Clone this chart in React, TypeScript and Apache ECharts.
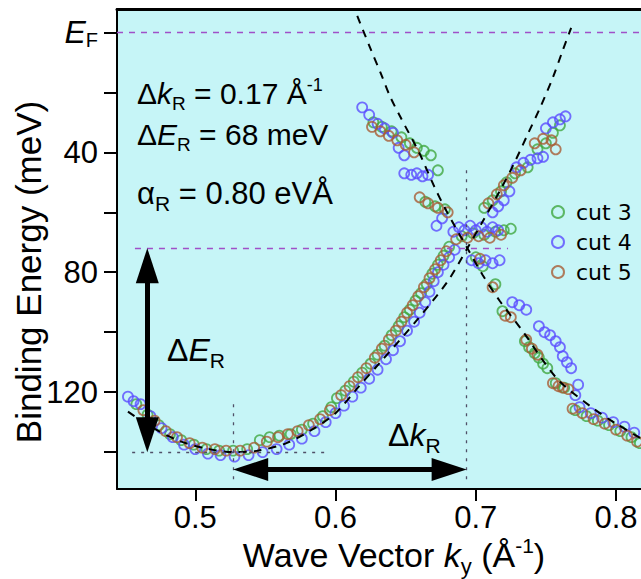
import React, { useEffect, useRef } from "react";
import * as echarts from "echarts";

const FONT = "Liberation Sans, Arial, Helvetica, sans-serif";

const xTicks = [0.5, 0.6, 0.7, 0.8];
const yTicks = [0, 20, 40, 60, 80, 100, 120, 140];
const yLabels = [0, 40, 80, 120];
const seriesNames = ["cut 3", "cut 4", "cut 5"];
const seriesColors = ["#40a840", "#5a4cff", "#a85c34"];

const cut3: number[][] = [
  [0.458, 124], [0.466, 127.5], [0.474, 131], [0.482, 134], [0.49, 136], [0.499, 137.5], [0.508, 139], [0.517, 139.5],
  [0.527, 139.5], [0.537, 139], [0.546, 136], [0.553, 135], [0.56, 134.5], [0.568, 134], [0.576, 132.5], [0.584, 130.5],
  [0.591, 128], [0.597, 125],
  [0.601, 122], [0.607, 119.5], [0.613, 116.5], [0.619, 113.5], [0.625, 110.5], [0.63, 107.5], [0.635, 104.5], [0.64, 101],
  [0.645, 98], [0.649, 95], [0.653, 92.5], [0.657, 89.5], [0.661, 87], [0.665, 84], [0.669, 80.5], [0.673, 77.5],
  [0.677, 74.5], [0.681, 71.5],
  [0.69, 68], [0.698, 67], [0.706, 67.5], [0.714, 66.5], [0.72, 66], [0.725, 65.5],
  [0.627, 30], [0.633, 31.5], [0.64, 33], [0.647, 35], [0.653, 37], [0.658, 38.5], [0.663, 39.5], [0.668, 41],
  [0.673, 46], [0.664, 56.5], [0.671, 58], [0.678, 59],
  [0.706, 58.5], [0.712, 56], [0.718, 53], [0.722, 50], [0.728, 47], [0.737, 45], [0.744, 39], [0.75, 37],
  [0.755, 33.5], [0.76, 31],
  [0.7, 75], [0.705, 78], [0.714, 84], [0.719, 93], [0.735, 103], [0.738, 105], [0.742, 107], [0.745, 108.5],
  [0.748, 110.5], [0.751, 112], [0.757, 117], [0.763, 118.5],
  [0.771, 126], [0.779, 128], [0.787, 129.5], [0.795, 131], [0.803, 133], [0.811, 135], [0.817, 137]
];

const cut4: number[][] = [
  [0.452, 121.5], [0.456, 123], [0.461, 124], [0.468, 128], [0.476, 132], [0.484, 135], [0.492, 137.5], [0.5, 139],
  [0.509, 140.5], [0.518, 141], [0.528, 141.5], [0.538, 141], [0.548, 140], [0.558, 139], [0.567, 137.5], [0.576, 135.5],
  [0.585, 133], [0.593, 130], [0.6, 127],
  [0.606, 124.5], [0.612, 121.5], [0.618, 118.5], [0.624, 115.5], [0.63, 112.5], [0.636, 109], [0.641, 106], [0.646, 103],
  [0.651, 99.5], [0.656, 96.5], [0.66, 93.5], [0.664, 90], [0.667, 86.5], [0.67, 83], [0.673, 80], [0.677, 77.5],
  [0.681, 75], [0.685, 72.5],
  [0.684, 66.5], [0.688, 65], [0.692, 66], [0.696, 64.5], [0.7, 66], [0.704, 65], [0.708, 66.5], [0.712, 65], [0.716, 66],
  [0.619, 25], [0.624, 27.5], [0.63, 30.5], [0.635, 32], [0.641, 33.5], [0.645, 38.5], [0.649, 41], [0.649, 47],
  [0.654, 47.5], [0.658, 47], [0.662, 48], [0.666, 47.5], [0.672, 64.5], [0.676, 62],
  [0.712, 60], [0.716, 58], [0.72, 56], [0.724, 53], [0.729, 45], [0.734, 43.5], [0.739, 42.5], [0.744, 42],
  [0.748, 41.5], [0.75, 32], [0.755, 30], [0.76, 29], [0.764, 28],
  [0.697, 76], [0.702, 77], [0.707, 76], [0.712, 77], [0.717, 76], [0.726, 90], [0.731, 91], [0.736, 92.5],
  [0.745, 98], [0.749, 100], [0.753, 101], [0.757, 103], [0.76, 105], [0.762, 108], [0.765, 110], [0.768, 112],
  [0.773, 117.5], [0.771, 121],
  [0.774, 125], [0.782, 127], [0.79, 128.5], [0.798, 130], [0.806, 131.5], [0.813, 133.5]
];

const cut5: number[][] = [
  [0.463, 126], [0.471, 129.5], [0.479, 133], [0.487, 135], [0.496, 137], [0.505, 138.5], [0.514, 139], [0.522, 139.5],
  [0.532, 139.5], [0.542, 138.5], [0.551, 136.5], [0.559, 135], [0.566, 134], [0.573, 133], [0.581, 131], [0.589, 129],
  [0.596, 126],
  [0.604, 121], [0.61, 118], [0.616, 115], [0.622, 112], [0.628, 108.5], [0.633, 105.5], [0.638, 102.5], [0.643, 99.5],
  [0.647, 96.5], [0.651, 93.5], [0.655, 91], [0.659, 88], [0.663, 85], [0.667, 82], [0.671, 79], [0.675, 76], [0.679, 73],
  [0.686, 69], [0.694, 68.5], [0.702, 68], [0.71, 68.5], [0.718, 67.5],
  [0.626, 31.5], [0.632, 33], [0.638, 34.5], [0.644, 36], [0.65, 37.5], [0.656, 40], [0.66, 55], [0.666, 57],
  [0.673, 58.5], [0.68, 60],
  [0.709, 57], [0.715, 54], [0.72, 51], [0.726, 48.5], [0.732, 46], [0.742, 37], [0.748, 35.5], [0.754, 36], [0.757, 39],
  [0.703, 75.5], [0.712, 85], [0.721, 94.5], [0.725, 95], [0.736, 102.5], [0.74, 105.5], [0.744, 107.5], [0.755, 117],
  [0.759, 118], [0.762, 118.5], [0.766, 119],
  [0.769, 125.5], [0.776, 127], [0.784, 129], [0.792, 130.5], [0.8, 132.5], [0.808, 134.5], [0.815, 136.5], [0.818, 139]
];

// dashed fit curves
const fitLeft: number[][] = [
  [0.452, 126.5], [0.47, 132], [0.49, 136.5], [0.51, 139], [0.527, 140], [0.545, 139.5], [0.565, 137], [0.585, 132],
  [0.6, 127], [0.615, 119], [0.632, 110], [0.658, 96], [0.68, 83], [0.694, 72], [0.705, 63], [0.717, 53], [0.727, 44],
  [0.737, 34], [0.746, 25], [0.755, 15], [0.762, 6], [0.768, -1.5]
];
const fitRight: number[][] = [
  [0.6155, -5.5], [0.625, 5.5], [0.633, 14.5], [0.639, 21.5], [0.646, 28], [0.66, 40.5], [0.67, 51], [0.679, 59.5],
  [0.694, 72], [0.705, 81], [0.717, 89.5], [0.734, 100], [0.748, 109.5], [0.76, 116.5], [0.784, 125.5], [0.8, 130.5],
  [0.818, 135.5]
];

const X_MIN = 0.4442;
const X_MAX = 0.8178;
const Y_MIN = -7.8;
const Y_MAX = 152.3;

const E_MIN = 140;
const E_CROSS = 72;
const K_MIN = 0.527;
const K_CROSS = 0.6935;
const ARROW_K = 0.4658;
const ARROW_E = 145.8;
// half an arrow-head length, in axis units (head centred on the line end)
const HEAD_E = 5.8;
const HEAD_K = 0.0125;

export default function App() {
  const ref = useRef<HTMLDivElement>(null);

  useEffect(() => {
    if (!ref.current) return;
    const chart = echarts.init(ref.current, undefined, { renderer: "svg" });

    const base = { fontFamily: FONT, fill: "#000" };
    const annRich = (fs: number, sub: number) => ({
      d: { ...base, fontSize: fs },
      i: { ...base, fontSize: fs, fontStyle: "italic" },
      n: { ...base, fontSize: fs },
      s: { ...base, fontSize: sub, padding: [Math.round(fs * 0.66), 0, 0, 0] },
      p: { ...base, fontSize: sub - 1, padding: [0, 0, Math.round(fs * 0.55), 0] }
    });

    const purple = "#a050c8";
    const dark = "#505068";

    const option: any = {
      animation: false,
      backgroundColor: "#ffffff",
      grid: {
        left: 117,
        top: 9,
        right: 0,
        bottom: 90,
        show: true,
        backgroundColor: "#c6f5f7",
        borderWidth: 0
      },
      legend: {
        data: seriesNames,
        orient: "vertical",
        left: 546,
        top: 196,
        icon: "circle",
        itemWidth: 12,
        itemHeight: 12,
        itemGap: 8,
        itemStyle: { color: "transparent", borderWidth: 2 },
        textStyle: { fontSize: 22, fontFamily: "DejaVu Sans", color: "#000", lineHeight: 22, padding: [0, 0, 0, 7] }
      },
      xAxis: [
        {
          type: "value",
          min: X_MIN,
          max: X_MAX,
          position: "bottom",
          axisLine: { onZero: false, lineStyle: { color: "#000", width: 2 } },
          axisTick: { customValues: xTicks, length: 12, inside: false, lineStyle: { color: "#000", width: 2 } },
          axisLabel: {
            customValues: xTicks,
            margin: 13,
            fontSize: 31,
            fontFamily: FONT,
            color: "#000",
            formatter: (v: number) => v.toFixed(1)
          },
          splitLine: { show: false }
        },
        {
          type: "value",
          min: X_MIN,
          max: X_MAX,
          position: "top",
          axisLine: { onZero: false, lineStyle: { color: "#000", width: 3 } },
          axisTick: { show: false },
          axisLabel: { show: false },
          splitLine: { show: false }
        }
      ],
      yAxis: {
        type: "value",
        inverse: true,
        min: Y_MIN,
        max: Y_MAX,
        axisLine: { show: true, onZero: false, lineStyle: { color: "#000", width: 2 } },
        axisTick: { show: true, customValues: yTicks, length: 13, inside: false, lineStyle: { color: "#000", width: 2 } },
        axisLabel: {
          customValues: yLabels,
          margin: 19,
          fontSize: 31,
          fontFamily: FONT,
          color: "#000",
          formatter: (v: number) => (v === 0 ? "{e|E}{f|F}" : String(v)),
          rich: {
            e: { fontSize: 32, fontStyle: "italic", fontFamily: FONT, color: "#000" },
            f: { fontSize: 20, fontFamily: FONT, color: "#000", padding: [16, 0, 0, 0] }
          }
        },
        splitLine: { show: false }
      },
      series: [
        ...[cut3, cut4, cut5].map((d, i) => ({
          name: seriesNames[i],
          type: "scatter",
          data: d,
          symbol: "circle",
          symbolSize: 10,
          z: 2,
          itemStyle: { color: "transparent", borderColor: seriesColors[i], borderWidth: 1.8 },
          emphasis: { disabled: true }
        })),
        {
          name: "fitLeft",
          type: "line",
          data: fitLeft,
          smooth: 0.3,
          symbol: "none",
          z: 3,
          silent: true,
          lineStyle: { color: "#000", width: 2, type: [8, 7] },
          markLine: {
            silent: true,
            symbol: "none",
            label: { show: false },
            emphasis: { disabled: true },
            data: [
              [
                { coord: [X_MIN, 0], lineStyle: { color: purple, width: 1.3, type: [6, 6] } },
                { coord: [X_MAX, 0] }
              ],
              [
                { coord: [0.457, E_CROSS], lineStyle: { color: purple, width: 1.3, type: [6, 6] } },
                { coord: [0.723, E_CROSS] }
              ],
              [
                { coord: [0.455, E_MIN], lineStyle: { color: dark, width: 1.3, type: [3, 6] } },
                { coord: [0.596, E_MIN] }
              ],
              [
                { coord: [K_MIN, 124], lineStyle: { color: dark, width: 1.3, type: [3, 6] } },
                { coord: [K_MIN, 151] }
              ],
              [
                { coord: [K_CROSS, 46], lineStyle: { color: dark, width: 1.3, type: [3, 6] } },
                { coord: [K_CROSS, 151] }
              ]
            ]
          }
        },
        {
          name: "fitRight",
          type: "line",
          data: fitRight,
          smooth: 0.3,
          symbol: "none",
          z: 4,
          silent: true,
          lineStyle: { color: "#000", width: 2, type: [8, 7] },
          markLine: {
            silent: true,
            symbol: ["triangle", "triangle"],
            symbolSize: [23, 35],
            label: { show: false },
            emphasis: { disabled: true },
            lineStyle: { color: "#000", width: 5, type: "solid" },
            itemStyle: { color: "#000" },
            data: [
              [{ coord: [ARROW_K, E_CROSS + HEAD_E] }, { coord: [ARROW_K, E_MIN - HEAD_E] }],
              [{ coord: [K_MIN + HEAD_K, ARROW_E] }, { coord: [K_CROSS - HEAD_K, ARROW_E] }]
            ]
          }
        }
      ],
      graphic: [
        {
          type: "text",
          x: 137,
          y: 93,
          z: 10,
          style: { text: "{d|Δ}{i|k}{s|R}{n| = 0.17 Å}{p|-1}", rich: annRich(30, 19), verticalAlign: "middle", align: "left" }
        },
        {
          type: "text",
          x: 137,
          y: 134,
          z: 10,
          style: { text: "{d|Δ}{i|E}{s|R}{n| = 68 meV}", rich: annRich(30, 19), verticalAlign: "middle", align: "left" }
        },
        {
          type: "text",
          x: 137,
          y: 193,
          z: 10,
          style: { text: "{d|α}{s|R}{n| = 0.80 eVÅ}", rich: annRich(31, 21), verticalAlign: "middle", align: "left" }
        },
        {
          type: "text",
          x: 167,
          y: 350,
          z: 10,
          style: { text: "{d|Δ}{i|E}{s|R}", rich: annRich(32, 21), verticalAlign: "middle", align: "left" }
        },
        {
          type: "text",
          x: 388,
          y: 435,
          z: 10,
          style: { text: "{d|Δ}{i|k}{s|R}", rich: annRich(32, 21), verticalAlign: "middle", align: "left" }
        },
        {
          type: "text",
          x: 394,
          y: 555,
          z: 10,
          style: {
            text: "{n|Wave Vector }{i|k}{s|y}{n| (Å}{p|-1}{n|)}",
            rich: annRich(34, 22),
            verticalAlign: "middle",
            align: "center"
          }
        },
        {
          type: "text",
          x: 28.5,
          y: 272,
          rotation: Math.PI / 2,
          z: 10,
          style: {
            text: "Binding Energy (meV)",
            fontSize: 35,
            fontFamily: FONT,
            fill: "#000",
            verticalAlign: "middle",
            align: "center"
          }
        }
      ]
    };

    chart.setOption(option);
    return () => chart.dispose();
  }, []);

  return (
    <div
      ref={ref}
      style={{ position: "fixed", left: 0, top: 0, width: 641, height: 579, background: "#fff" }}
    />
  );
}
